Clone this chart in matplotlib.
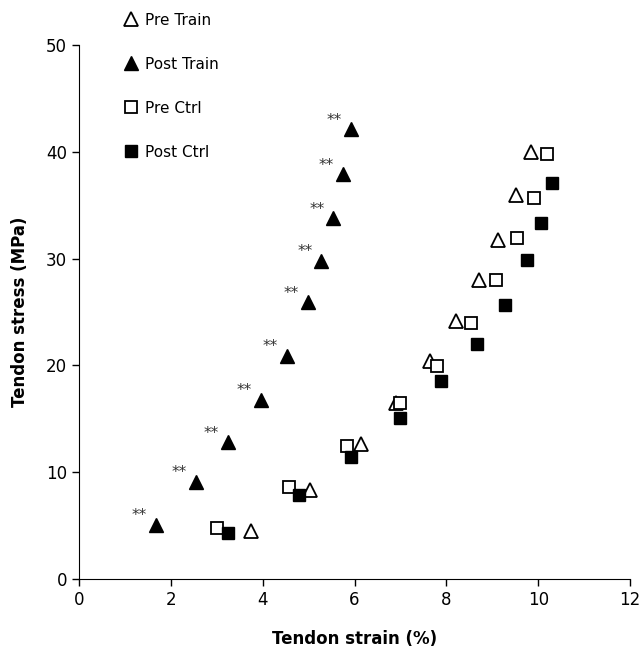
import numpy as np
import matplotlib
matplotlib.use("Agg")
import matplotlib.pyplot as plt

# strain (%) / stress (MPa)
pre_train_x = [3.74, 5.04, 6.13, 6.91, 7.65, 8.20, 8.70, 9.13, 9.52, 9.85]
pre_train_y = [4.5, 8.3, 12.6, 16.5, 20.4, 24.2, 28.0, 31.7, 36.0, 40.0]

post_train_x = [1.67, 2.54, 3.24, 3.96, 4.52, 4.98, 5.28, 5.54, 5.74, 5.93]
post_train_y = [5.1, 9.1, 12.8, 16.8, 20.9, 25.9, 29.8, 33.8, 37.9, 42.1]

pre_ctrl_x = [3.00, 4.57, 5.83, 6.98, 7.80, 8.54, 9.08, 9.54, 9.90, 10.20]
pre_ctrl_y = [4.8, 8.6, 12.5, 16.5, 19.9, 24.0, 28.0, 31.9, 35.7, 39.8]

post_ctrl_x = [3.24, 4.78, 5.93, 7.00, 7.89, 8.67, 9.28, 9.76, 10.07, 10.30]
post_ctrl_y = [4.3, 7.9, 11.4, 15.1, 18.5, 22.0, 25.7, 29.9, 33.3, 37.1]

plt.rcParams['font.family'] = ['DejaVu Sans']

fig = plt.figure(figsize=(6.43, 6.58), dpi=100)
ax = fig.add_axes([0.1229, 0.12, 0.857, 0.8116])

ax.plot(pre_train_x, pre_train_y, '^', ms=9.5, mfc='white', mec='black',
        mew=1.3, ls='none', label='Pre Train')
ax.plot(post_train_x, post_train_y, '^', ms=9.5, mfc='black', mec='black',
        ls='none', label='Post Train')
ax.plot(pre_ctrl_x, pre_ctrl_y, 's', ms=8.5, mfc='white', mec='black',
        mew=1.3, ls='none', label='Pre Ctrl')
ax.plot(post_ctrl_x, post_ctrl_y, 's', ms=8.5, mfc='black', mec='black',
        ls='none', label='Post Ctrl')

# significance marks
for x, y in zip(post_train_x, post_train_y):
    ax.annotate('**', (x, y), xytext=(-12, 6.5), textcoords='offset points',
                ha='center', va='center', fontsize=11, color='#333333')

ax.set_xlim(0, 12)
ax.set_ylim(0, 50)
ax.set_xticks(np.arange(0, 13, 2))
ax.set_yticks(np.arange(0, 51, 10))
ax.spines['top'].set_visible(False)
ax.spines['right'].set_visible(False)
ax.tick_params(direction='out', length=5, labelsize=12, width=1)
ax.set_xlabel('Tendon strain (%)', fontsize=12, fontweight='bold', labelpad=15)
ax.set_ylabel('Tendon stress (MPa)', fontsize=12, fontweight='bold', labelpad=12)

fig.legend(loc='upper left', bbox_to_anchor=(0.185, 0.99), frameon=False,
           fontsize=11, labelspacing=1.9, handlelength=0.8, handletextpad=0.5,
           borderaxespad=0)

fig.savefig('out.png', dpi=100)
